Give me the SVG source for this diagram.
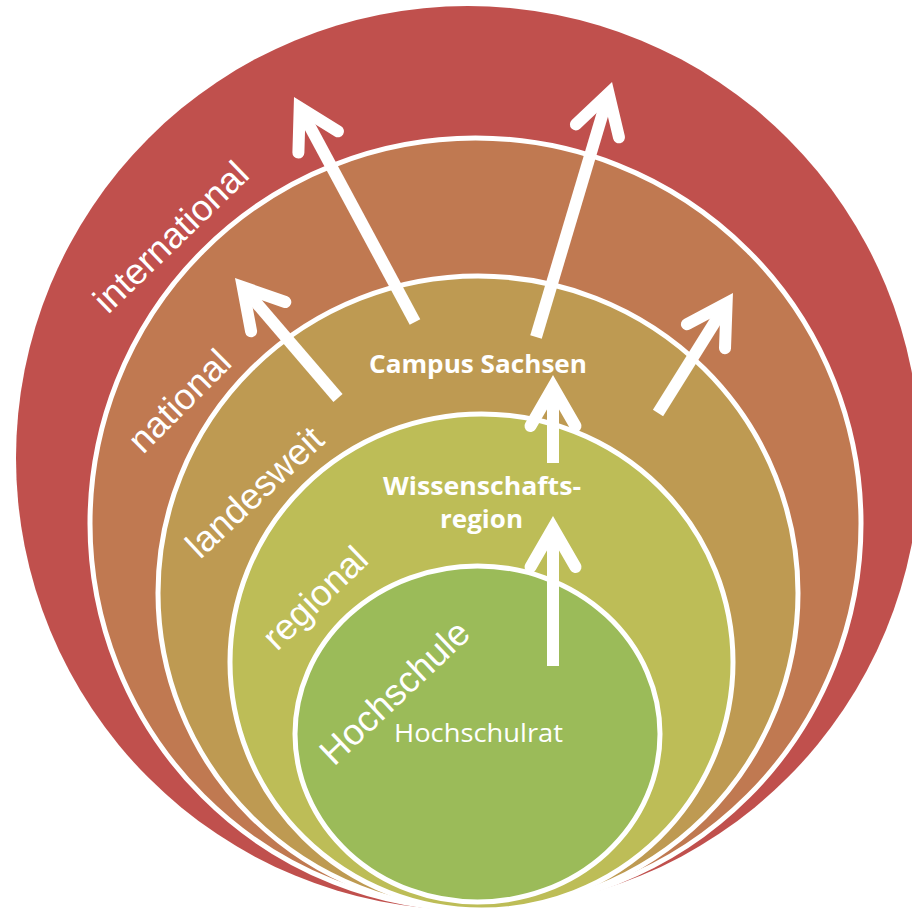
<svg xmlns="http://www.w3.org/2000/svg" width="912" height="913" viewBox="0 0 912 913">
<style>
  .ring{stroke:#ffffff;stroke-width:5}
  .lbl{font-family:"Liberation Sans",Arial,sans-serif;font-size:36.5px;fill:#ffffff}
  .ctr{font-family:"Open Sans","Noto Sans",sans-serif;font-size:25px;fill:#ffffff;text-anchor:middle}
  .b{font-weight:700}
  .shaft{stroke:#ffffff;stroke-width:12;fill:none;stroke-linecap:butt}
  .head{stroke:#ffffff;stroke-width:12;fill:none;stroke-linecap:round;stroke-linejoin:miter;stroke-miterlimit:10}
</style>
<rect width="912" height="913" fill="#ffffff"/>
<g id="international">
  <ellipse cx="468" cy="458" rx="452" ry="452" fill="#C0504D"/>
  <text class="lbl" transform="translate(108,315) rotate(-44)">international</text>
</g>
<g id="national">
  <ellipse class="ring" cx="475.5" cy="523.5" rx="385.5" ry="385.5" fill="#C07951"/>
  <text class="lbl" transform="translate(143,455) rotate(-45)">national</text>
</g>
<g id="landesweit">
  <ellipse class="ring" cx="478" cy="593" rx="320" ry="317" fill="#BE9A52"/>
  <text class="lbl" transform="translate(200,560) rotate(-43)">landesweit</text>
  <text class="ctr b" x="478" y="373" textLength="218" lengthAdjust="spacingAndGlyphs">Campus Sachsen</text>
</g>
<g id="regional">
  <ellipse class="ring" cx="481.5" cy="662" rx="251.5" ry="248" fill="#BDBD57"/>
  <text class="lbl" transform="translate(277,652) rotate(-44)">regional</text>
  <text class="ctr b" x="482" y="495" textLength="198" lengthAdjust="spacingAndGlyphs">Wissenschafts-</text>
  <text class="ctr b" x="481.5" y="528" textLength="83" lengthAdjust="spacingAndGlyphs">region</text>
</g>
<g id="hochschule">
  <ellipse class="ring" cx="477.5" cy="734" rx="182.5" ry="168" fill="#9BBB59"/>
  <text class="lbl" transform="translate(334,767) rotate(-43.5)">Hochschule</text>
  <text class="ctr" x="478.5" y="742" textLength="169" lengthAdjust="spacingAndGlyphs">Hochschulrat</text>
</g>
<g id="connectors">
  <line class="shaft" x1="415" y1="322" x2="299.7" y2="107.6"/>
  <polyline class="head" points="298.4,152.6 299.7,107.6 338,131.3"/>
  <line class="shaft" x1="536" y1="337" x2="608.6" y2="93.5"/>
  <polyline class="head" points="575.9,124.4 608.6,93.5 619,137.3"/>
  <line class="shaft" x1="338" y1="398" x2="242.8" y2="287.1"/>
  <polyline class="head" points="251.1,331.3 242.8,287.1 285.3,302"/>
  <line class="shaft" x1="658" y1="413" x2="726.6" y2="303.2"/>
  <polyline class="head" points="686.9,324.3 726.6,303.2 725,348.2"/>
  <line class="shaft" x1="553" y1="463" x2="553" y2="387"/>
  <polyline class="head" points="530.5,426 553,387 575.5,426"/>
  <line class="shaft" x1="553" y1="666" x2="553" y2="528"/>
  <polyline class="head" points="530.5,567 553,528 575.5,567"/>
</g>
</svg>
